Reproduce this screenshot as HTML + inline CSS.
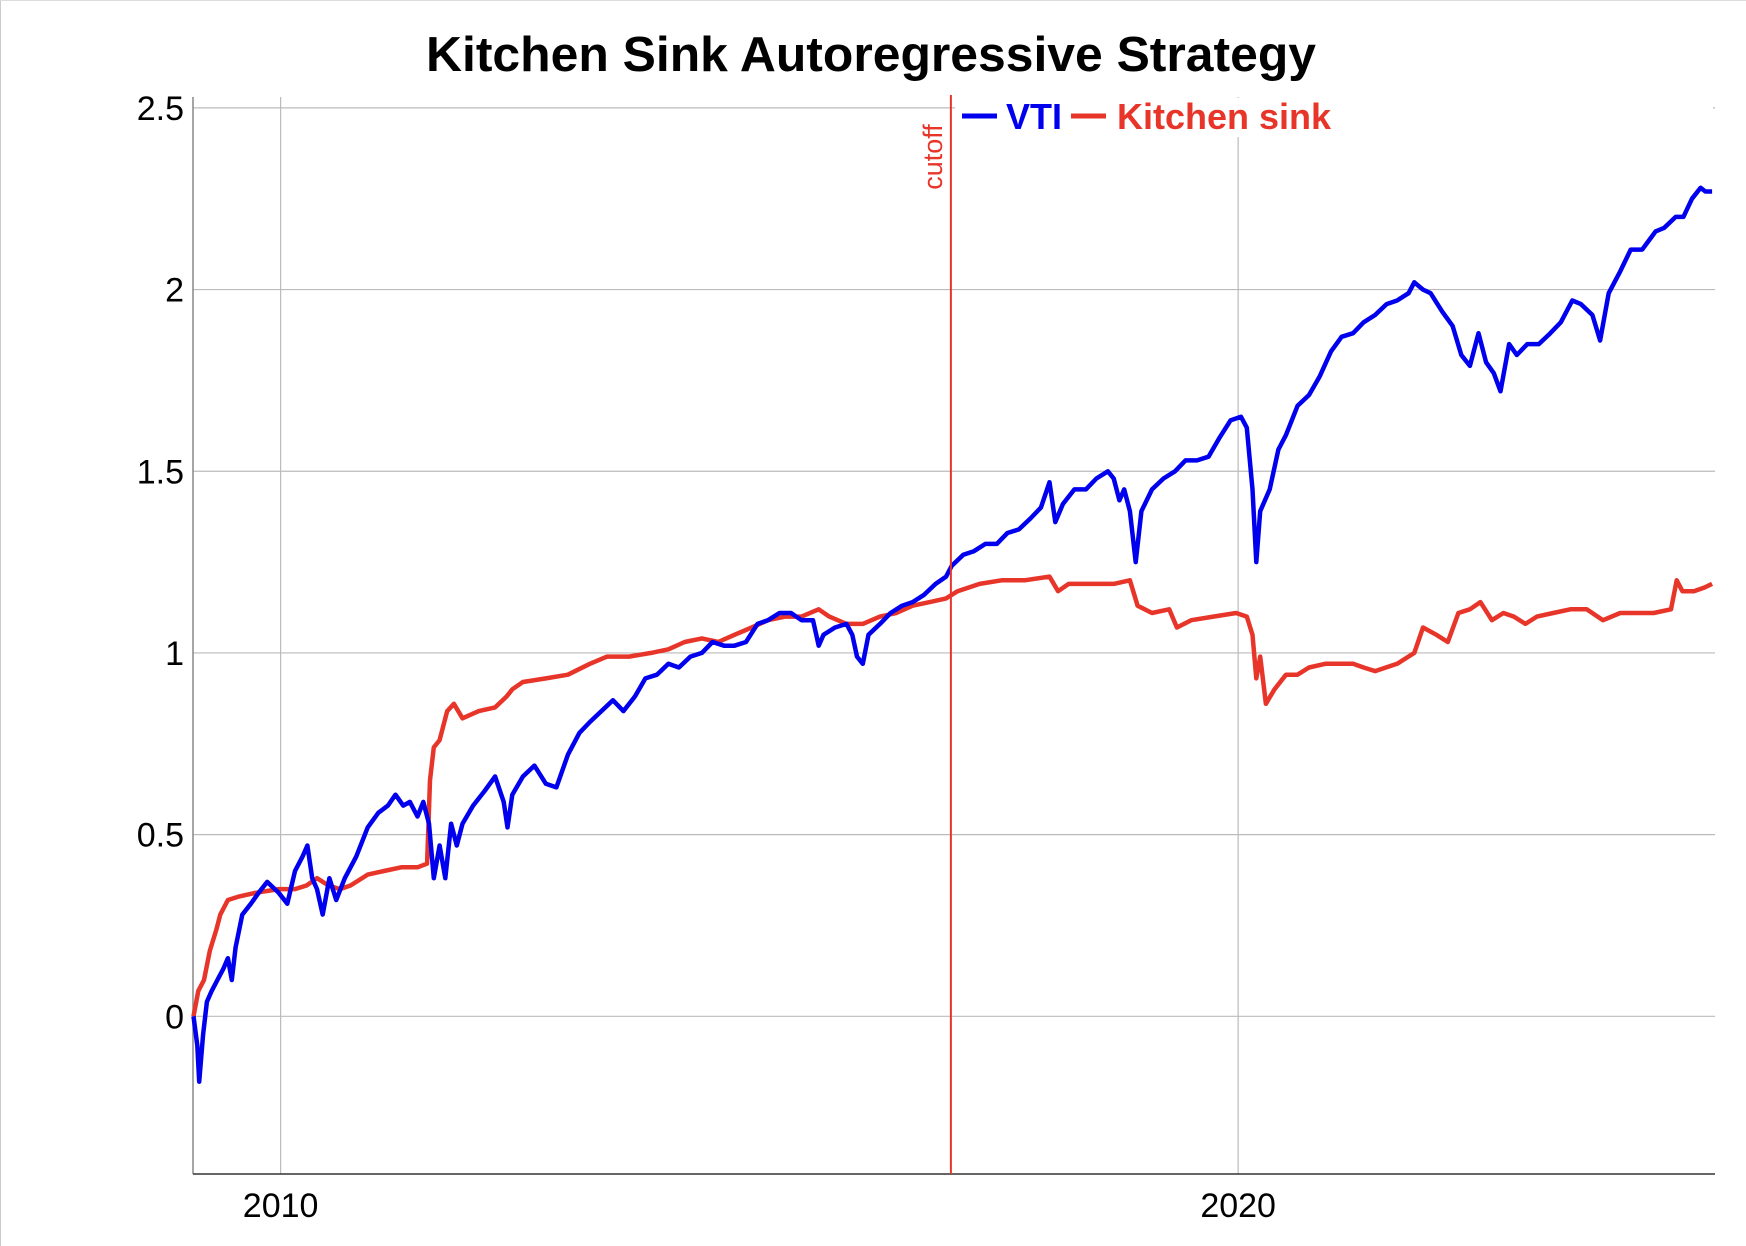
<!DOCTYPE html>
<html><head><meta charset="utf-8">
<style>
html,body{margin:0;padding:0;background:#fff;}
body{width:1746px;height:1246px;overflow:hidden;position:relative;font-family:"Liberation Sans",sans-serif;}
</style></head>
<body>
<svg id="chart" width="1746" height="1246" viewBox="0 0 1746 1246" xmlns="http://www.w3.org/2000/svg" style="position:absolute;left:0;top:0">
<line x1="0.5" y1="0" x2="0.5" y2="1246" stroke="#ccc" stroke-width="1"/>
<line x1="0" y1="0.5" x2="1746" y2="0.5" stroke="#ddd" stroke-width="1"/>
<text x="871" y="71" text-anchor="middle" font-size="49" font-weight="bold" fill="#000" textLength="890" lengthAdjust="spacingAndGlyphs">Kitchen Sink Autoregressive Strategy</text>
<g id="grid"></g>
<g id="axes"></g>
<g id="series"></g>
<g id="legend"></g>
</svg>
<script>
const yTicks = [0, 0.5, 1, 1.5, 2, 2.5];
const yTickLabels = ["0", "0.5", "1", "1.5", "2", "2.5"];
const xTicks = [2010, 2020];
const xTickLabels = ["2010", "2020"];
const cutoffYear = 2017.0;
const vtiYears = [2009.09,2009.13,2009.15,2009.19,2009.23,2009.28,2009.34,2009.40,2009.45,2009.49,2009.53,2009.60,2009.69,2009.77,2009.86,2009.98,2010.07,2010.15,2010.23,2010.28,2010.33,2010.38,2010.44,2010.51,2010.58,2010.67,2010.79,2010.91,2011.02,2011.12,2011.20,2011.28,2011.35,2011.43,2011.49,2011.55,2011.60,2011.66,2011.72,2011.78,2011.84,2011.90,2012.01,2012.13,2012.24,2012.33,2012.37,2012.42,2012.53,2012.65,2012.77,2012.88,2013.00,2013.12,2013.23,2013.35,2013.47,2013.58,2013.70,2013.81,2013.93,2014.05,2014.16,2014.28,2014.40,2014.51,2014.63,2014.74,2014.86,2014.98,2015.09,2015.21,2015.33,2015.44,2015.56,2015.62,2015.67,2015.79,2015.91,2015.97,2016.02,2016.08,2016.14,2016.26,2016.37,2016.49,2016.60,2016.72,2016.84,2016.95,2017.01,2017.13,2017.24,2017.36,2017.48,2017.59,2017.71,2017.83,2017.94,2018.03,2018.09,2018.17,2018.29,2018.41,2018.52,2018.64,2018.70,2018.76,2018.81,2018.87,2018.93,2018.99,2019.10,2019.22,2019.34,2019.45,2019.57,2019.69,2019.80,2019.92,2020.03,2020.09,2020.15,2020.19,2020.23,2020.33,2020.42,2020.50,2020.62,2020.74,2020.85,2020.97,2021.08,2021.20,2021.31,2021.43,2021.55,2021.66,2021.78,2021.84,2021.93,2022.01,2022.13,2022.24,2022.33,2022.42,2022.51,2022.59,2022.67,2022.74,2022.83,2022.91,2023.02,2023.14,2023.26,2023.37,2023.49,2023.58,2023.70,2023.78,2023.87,2023.99,2024.10,2024.22,2024.36,2024.45,2024.57,2024.65,2024.74,2024.83,2024.88,2024.95];
const vtiValues = [0,-0.08,-0.18,-0.05,0.04,0.07,0.10,0.13,0.16,0.10,0.19,0.28,0.31,0.34,0.37,0.34,0.31,0.40,0.44,0.47,0.38,0.35,0.28,0.38,0.32,0.38,0.44,0.52,0.56,0.58,0.61,0.58,0.59,0.55,0.59,0.53,0.38,0.47,0.38,0.53,0.47,0.53,0.58,0.62,0.66,0.59,0.52,0.61,0.66,0.69,0.64,0.63,0.72,0.78,0.81,0.84,0.87,0.84,0.88,0.93,0.94,0.97,0.96,0.99,1.00,1.03,1.02,1.02,1.03,1.08,1.09,1.11,1.11,1.09,1.09,1.02,1.05,1.07,1.08,1.05,0.99,0.97,1.05,1.08,1.11,1.13,1.14,1.16,1.19,1.21,1.24,1.27,1.28,1.30,1.30,1.33,1.34,1.37,1.40,1.47,1.36,1.41,1.45,1.45,1.48,1.50,1.48,1.42,1.45,1.39,1.25,1.39,1.45,1.48,1.50,1.53,1.53,1.54,1.59,1.64,1.65,1.62,1.45,1.25,1.39,1.45,1.56,1.60,1.68,1.71,1.76,1.83,1.87,1.88,1.91,1.93,1.96,1.97,1.99,2.02,2.00,1.99,1.94,1.90,1.82,1.79,1.88,1.80,1.77,1.72,1.85,1.82,1.85,1.85,1.88,1.91,1.97,1.96,1.93,1.86,1.99,2.05,2.11,2.11,2.16,2.17,2.20,2.20,2.25,2.28,2.27,2.27];
const ksYears = [2009.09,2009.14,2009.20,2009.26,2009.33,2009.37,2009.45,2009.57,2009.74,2009.98,2010.15,2010.27,2010.38,2010.50,2010.62,2010.73,2010.91,2011.08,2011.26,2011.43,2011.53,2011.56,2011.60,2011.66,2011.74,2011.81,2011.90,2012.07,2012.24,2012.36,2012.42,2012.53,2012.77,2013.00,2013.23,2013.41,2013.64,2013.87,2014.05,2014.22,2014.40,2014.57,2014.74,2014.92,2015.09,2015.27,2015.44,2015.62,2015.73,2015.91,2016.08,2016.26,2016.43,2016.60,2016.78,2016.95,2017.07,2017.30,2017.53,2017.77,2018.03,2018.12,2018.23,2018.47,2018.70,2018.87,2018.95,2019.10,2019.28,2019.36,2019.51,2019.74,2019.98,2020.09,2020.15,2020.19,2020.23,2020.29,2020.38,2020.50,2020.62,2020.74,2020.91,2021.08,2021.20,2021.31,2021.43,2021.66,2021.84,2021.93,2022.07,2022.19,2022.30,2022.42,2022.53,2022.65,2022.77,2022.88,2023.00,2023.12,2023.29,2023.47,2023.64,2023.81,2023.99,2024.16,2024.34,2024.52,2024.58,2024.64,2024.76,2024.87,2024.95];
const ksValues = [0,0.07,0.10,0.18,0.24,0.28,0.32,0.33,0.34,0.35,0.35,0.36,0.38,0.36,0.35,0.36,0.39,0.40,0.41,0.41,0.42,0.65,0.74,0.76,0.84,0.86,0.82,0.84,0.85,0.88,0.90,0.92,0.93,0.94,0.97,0.99,0.99,1.00,1.01,1.03,1.04,1.03,1.05,1.07,1.09,1.10,1.10,1.12,1.10,1.08,1.08,1.10,1.11,1.13,1.14,1.15,1.17,1.19,1.20,1.20,1.21,1.17,1.19,1.19,1.19,1.20,1.13,1.11,1.12,1.07,1.09,1.10,1.11,1.10,1.05,0.93,0.99,0.86,0.90,0.94,0.94,0.96,0.97,0.97,0.97,0.96,0.95,0.97,1.00,1.07,1.05,1.03,1.11,1.12,1.14,1.09,1.11,1.10,1.08,1.10,1.11,1.12,1.12,1.09,1.11,1.11,1.11,1.12,1.20,1.17,1.17,1.18,1.19];

const NS = "http://www.w3.org/2000/svg";
const plotL = 193, plotR = 1715, plotT = 97, plotB = 1174;
const xMin = 2009.085, xMax = 2024.98, yMin = -0.434, yMax = 2.53;
function xScale(v){ return plotL + (v - xMin) / (xMax - xMin) * (plotR - plotL); }
function yScale(v){ return plotB - (v - yMin) / (yMax - yMin) * (plotB - plotT); }
function mk(tag, attrs, parent){ const e = document.createElementNS(NS, tag); for (const k in attrs) e.setAttribute(k, attrs[k]); parent.appendChild(e); return e; }

const grid = document.getElementById('grid');
const axes = document.getElementById('axes');
const series = document.getElementById('series');
const legend = document.getElementById('legend');

yTicks.forEach((t, i) => {
  const y = yScale(t);
  const gl = mk('line', {x1: plotL, x2: plotR, y1: y, y2: y, stroke: '#bbb', 'stroke-width': 1.2}, grid);
  
  
  const tx = mk('text', {x: 184, y: y + 12, 'text-anchor': 'end', 'font-size': 34, fill: '#000'}, axes);
  tx.textContent = yTickLabels[i];
  
  
});
xTicks.forEach((t, i) => {
  const x = xScale(t);
  const gl = mk('line', {x1: x, x2: x, y1: plotT, y2: plotB, stroke: '#bbb', 'stroke-width': 1.2}, grid);
  
  
  const tx = mk('text', {x: x, y: 1217, 'text-anchor': 'middle', 'font-size': 34, fill: '#000'}, axes);
  tx.textContent = xTickLabels[i];
  
  
});
const ya = mk('line', {x1: plotL, x2: plotL, y1: plotT, y2: plotB, stroke: '#888', 'stroke-width': 1.5}, axes);


const xa = mk('line', {x1: plotL, x2: plotR, y1: plotB, y2: plotB, stroke: '#333', 'stroke-width': 1.5}, axes);



function path(xs, ys){ return xs.map((x, i) => (i ? 'L' : 'M') + xScale(x).toFixed(1) + ',' + yScale(ys[i]).toFixed(1)).join(' '); }
const ks = mk('path', {d: path(ksYears, ksValues), fill: 'none', stroke: '#e8352a', 'stroke-width': 4.5, 'stroke-linejoin': 'round'}, series);


const vti = mk('path', {d: path(vtiYears, vtiValues), fill: 'none', stroke: '#0000ee', 'stroke-width': 4.5, 'stroke-linejoin': 'round'}, series);



const lb = mk('rect', {x: 955, y: 98, width: 758, height: 39, fill: '#fff'}, legend);


const cx = xScale(cutoffYear);
const cl = mk('line', {x1: cx, x2: cx, y1: 95, y2: plotB, stroke: '#e8352a', 'stroke-width': 2}, series);


const ct = mk('text', {x: 0, y: 0, transform: 'translate(' + (cx - 9) + ',157) rotate(-90)', 'text-anchor': 'middle', 'font-size': 27, fill: '#e8352a'}, series);
ct.textContent = 'cutoff';



const l1 = mk('line', {x1: 962, x2: 997, y1: 116, y2: 116, stroke: '#0000ee', 'stroke-width': 5}, legend);


const t1 = mk('text', {x: 1006, y: 129, 'font-size': 36, 'font-weight': 'bold', fill: '#0000ee'}, legend);
t1.textContent = 'VTI';


const l2 = mk('line', {x1: 1071, x2: 1106, y1: 116, y2: 116, stroke: '#e8352a', 'stroke-width': 5}, legend);


const t2 = mk('text', {x: 1117, y: 129, 'font-size': 36, 'font-weight': 'bold', fill: '#e8352a'}, legend);
t2.textContent = 'Kitchen sink';


</script>
</body></html>
